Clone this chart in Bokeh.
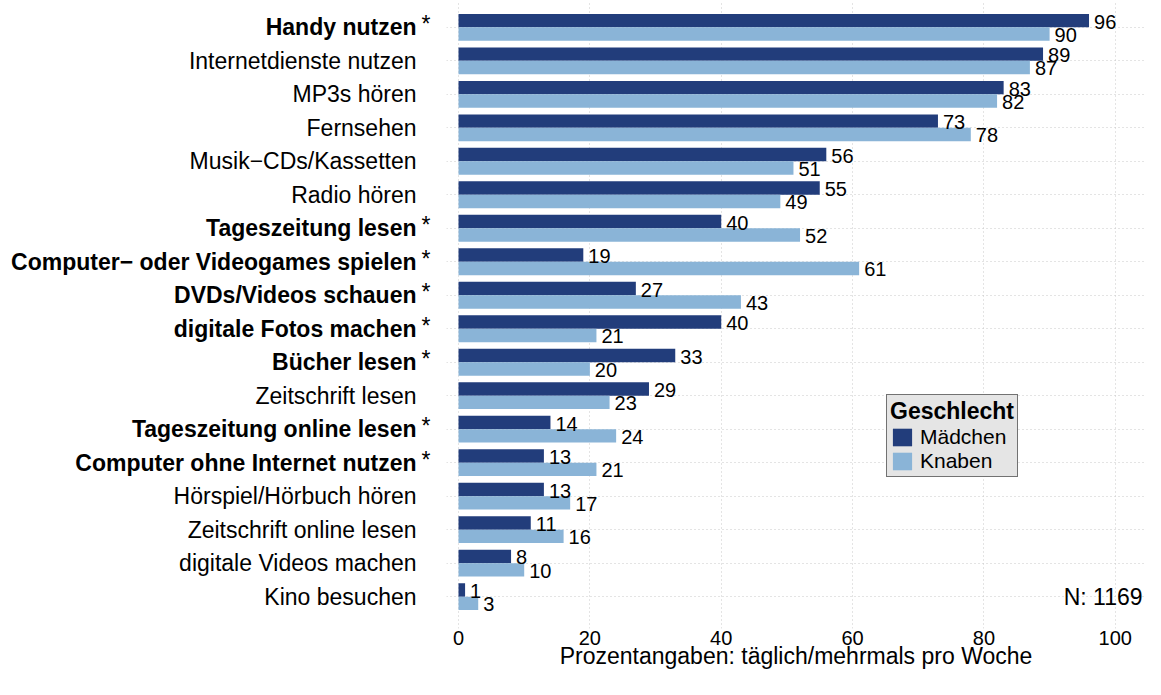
from bokeh.plotting import figure
from bokeh.layouts import row
from bokeh.models import Range1d, Label, Legend, LegendItem, FixedTicker, ColumnDataSource
from bokeh.transform import dodge
from bokeh.core.properties import value
from bokeh.embed import file_html
from bokeh.resources import INLINE

categories = [
    "Handy nutzen", "Internetdienste nutzen", "MP3s hören", "Fernsehen",
    "Musik\u2212CDs/Kassetten", "Radio hören", "Tageszeitung lesen",
    "Computer\u2212 oder Videogames spielen", "DVDs/Videos schauen",
    "digitale Fotos machen", "Bücher lesen", "Zeitschrift lesen",
    "Tageszeitung online lesen", "Computer ohne Internet nutzen",
    "Hörspiel/Hörbuch hören", "Zeitschrift online lesen",
    "digitale Videos machen", "Kino besuchen",
]
significant = [True, False, False, False, False, False, True, True, True,
               True, True, False, True, True, False, False, False, False]
maedchen = [96, 89, 83, 73, 56, 55, 40, 19, 27, 40, 33, 29, 14, 13, 13, 11, 8, 1]
knaben = [90, 87, 82, 78, 51, 49, 52, 61, 43, 21, 20, 23, 24, 21, 17, 16, 10, 3]
x_ticks = [0, 20, 40, 60, 80, 100]
x_title = "Prozentangaben: täglich/mehrmals pro Woche"
n_text = "N: 1169"

DARK = "#223D7B"
LIGHT = "#8AB4D7"
FONT = "Liberation Sans"
H = 679
LEFT_W = 446
TOTAL_W = 1145

n = len(categories)
ypos = [n - 1 - i for i in range(n)]
src = ColumnDataSource(dict(
    y=ypos, cat=categories, m=maedchen, k=knaben,
    m_lbl=[str(v) for v in maedchen], k_lbl=[str(v) for v in knaben],
    style=["bold" if b else "normal" for b in significant],
))
star_src = ColumnDataSource(dict(
    y=[yv for yv, b in zip(ypos, significant) if b],
    t=["*" for b in significant if b],
))

y_range = Range1d(-0.95, 17.80)


def style_xaxis(fig, ghost=False):
    ax = fig.xaxis
    ax.ticker = FixedTicker(ticks=x_ticks)
    ax.axis_line_color = None
    ax.major_tick_line_color = None
    ax.minor_tick_line_color = None
    ax.major_tick_out = 0
    ax.major_tick_in = 0
    ax.major_label_text_font = FONT
    ax.major_label_text_font_size = "20px"
    ax.major_label_text_color = "black"
    ax.major_label_standoff = 2
    ax.axis_label = " " if ghost else x_title
    ax.axis_label_text_font = FONT
    ax.axis_label_text_font_size = "23px"
    ax.axis_label_text_font_style = "normal"
    ax.axis_label_text_color = "black"
    ax.axis_label_standoff = -5
    if ghost:
        ax.major_label_overrides = {t: " " for t in x_ticks}


# ---- left panel: category labels ----
pl = figure(width=LEFT_W, height=H, output_backend="svg", toolbar_location=None,
            x_range=Range1d(0, LEFT_W), y_range=y_range, y_axis_location=None,
            min_border_left=0, min_border_right=0, min_border_top=0)
pl.outline_line_color = None
pl.grid.visible = False
style_xaxis(pl, ghost=True)
pl.text(x=416, y="y", text="cat", source=src, text_align="right",
        text_baseline="middle", text_font=value(FONT), text_font_size="23px",
        text_font_style="style", text_color="black")
pl.text(x=421, y="y", text="t", source=star_src, text_align="left",
        text_baseline="middle", y_offset=-3, text_font=value(FONT),
        text_font_size="23px", text_color="black")

# ---- main panel: bars ----
p = figure(width=TOTAL_W - LEFT_W, height=H, output_backend="svg",
           toolbar_location=None, x_range=Range1d(-1.83, 104.6),
           y_range=y_range, min_border_left=0, min_border_right=0,
           min_border_top=0)
p.outline_line_color = None

r1 = p.hbar(y=dodge("y", 0.2, range=p.y_range), left=0, right="m", height=0.4,
            fill_color=DARK, line_color=None, source=src)
r2 = p.hbar(y=dodge("y", -0.2, range=p.y_range), left=0, right="k", height=0.4,
            fill_color=LIGHT, line_color=None, source=src)

p.text(x="m", y=dodge("y", 0.2, range=p.y_range), text="m_lbl", source=src,
       x_offset=5, y_offset=1, text_baseline="middle", text_align="left",
       text_font=value(FONT), text_font_size="20px", text_color="black")
p.text(x="k", y=dodge("y", -0.2, range=p.y_range), text="k_lbl", source=src,
       x_offset=5, y_offset=1, text_baseline="middle", text_align="left",
       text_font=value(FONT), text_font_size="20px", text_color="black")

p.yaxis.visible = False
p.ygrid.ticker = FixedTicker(ticks=ypos)
p.xgrid.ticker = FixedTicker(ticks=x_ticks)
for g in (p.xgrid, p.ygrid):
    g.grid_line_color = "#C8C8C8"
    g.grid_line_dash = "1 3"
    g.grid_line_width = 1
style_xaxis(p)

p.add_layout(Label(x=104.6, y=0, x_offset=-3, text=n_text, text_align="right",
                   text_baseline="middle", text_font=FONT,
                   text_font_size="23px", text_color="black"))

legend = Legend(items=[LegendItem(label="Mädchen", renderers=[r1]),
                       LegendItem(label="Knaben", renderers=[r2])],
                location=(440, 151), title="Geschlecht",
                title_text_font=FONT, title_text_font_size="23px",
                title_text_font_style="bold", title_text_color="black",
                title_standoff=-2,
                label_text_font=FONT, label_text_font_size="21px",
                label_text_color="black",
                glyph_width=24, glyph_height=22, label_height=22,
                label_standoff=6, spacing=0, padding=3, margin=0,
                border_line_color="black", border_line_width=1,
                background_fill_color="#E5E5E5", background_fill_alpha=1)
p.add_layout(legend)

layout = row(pl, p, spacing=0)
open("out.html", "w").write(file_html(layout, INLINE))
